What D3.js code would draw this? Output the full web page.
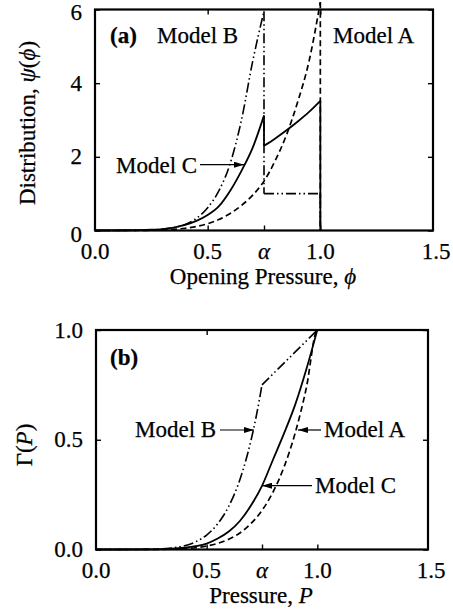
<!DOCTYPE html>
<html>
<head>
<meta charset="utf-8">
<script src="https://cdn.jsdelivr.net/npm/d3@7"></script>
<style>
  html, body { margin: 0; padding: 0; background: #fff; }
  svg { display: block; }
  text { font-family: "Liberation Serif", "Times New Roman", serif; fill: #000; stroke: #000; stroke-width: 0.25px; }
</style>
</head>
<body>
<svg id="chart" width="453" height="612"></svg>
<script>
// ---------------- data ----------------
const ALPHA = 0.75;
const xTickValues = [0, 0.5, ALPHA, 1.0, 1.5];
const xTickLabels = ["0.0", "0.5", "α", "1.0", "1.5"];
const yTickValuesA = [0, 2, 4, 6];
const yTickLabelsA = ["0", "2", "4", "6"];
const yTickValuesB = [0, 0.5, 1.0];
const yTickLabelsB = ["0.0", "0.5", "1.0"];

// Panel (a): distribution psi(phi); repeated x = vertical jump
const phiA = [0, 0.2, 0.25, 0.3, 0.35, 0.4, 0.45, 0.5, 0.55, 0.6, 0.65, 0.7, 0.75, 0.8, 0.85, 0.9, 0.95, 1.0, 1.0];
const psiA = [0, 0.002, 0.006, 0.015, 0.032, 0.061, 0.11, 0.185, 0.30, 0.46, 0.68, 0.96, 1.34, 1.90, 2.60, 3.50, 4.60, 6.2, 0];

const phiB = [0, 0.2, 0.25, 0.3, 0.35, 0.4, 0.45, 0.5, 0.55, 0.6, 0.65, 0.7, 0.725, 0.75, 0.75, 1.0, 1.0];
const psiB = [0, 0.005, 0.015, 0.035, 0.08, 0.16, 0.33, 0.62, 1.08, 1.82, 3.0, 4.6, 5.3, 5.95, 1.0, 1.0, 0];

const phiC = [0, 0.2, 0.25, 0.3, 0.35, 0.4, 0.45, 0.5, 0.55, 0.6, 0.65, 0.7, 0.75, 0.75, 0.8, 0.85, 0.9, 0.95, 1.0, 1.0];
const psiC = [0, 0.01, 0.02, 0.04, 0.08, 0.15, 0.26, 0.42, 0.66, 1.08, 1.62, 2.25, 3.12, 2.30, 2.50, 2.72, 2.96, 3.22, 3.52, 0];

// Panel (b): cumulative Gamma(P)
const pA = [0, 0.2, 0.3, 0.35, 0.4, 0.45, 0.5, 0.55, 0.6, 0.65, 0.7, 0.75, 0.8, 0.85, 0.9, 0.95, 1.0, 1.5];
const gammaA = [0, 0.0001, 0.0007, 0.0018, 0.004, 0.008, 0.016, 0.028, 0.047, 0.075, 0.118, 0.178, 0.262, 0.377, 0.531, 0.735, 1.0, 1.0];

const pB = [0, 0.2, 0.25, 0.3, 0.35, 0.4, 0.45, 0.5, 0.55, 0.6, 0.65, 0.7, 0.725, 0.75, 1.0, 1.5];
const gammaB = [0, 0.0003, 0.001, 0.003, 0.008, 0.017, 0.035, 0.066, 0.117, 0.197, 0.318, 0.496, 0.612, 0.75, 1.0, 1.0];

const pC = [0, 0.2, 0.3, 0.4, 0.45, 0.5, 0.55, 0.6, 0.65, 0.7, 0.75, 0.8, 0.85, 0.9, 0.95, 1.0, 1.5];
const gammaC = [0, 0.0002, 0.002, 0.008, 0.015, 0.027, 0.05, 0.082, 0.13, 0.2, 0.29, 0.41, 0.53, 0.66, 0.82, 1.0, 1.0];

// ---------------- styles ----------------
const FS = 23;
const STYLE = {
  A: { dash: "6,3.5", width: 1.7 },
  B: { dash: "10,3,1.5,3,1.5,3", width: 1.6 },
  C: { dash: null, width: 1.8 }
};

const svg = d3.select("#chart");

svg.append("defs").append("marker")
  .attr("id", "arrow").attr("viewBox", "0 0 10 6")
  .attr("refX", 10).attr("refY", 3)
  .attr("markerWidth", 10).attr("markerHeight", 6)
  .attr("markerUnits", "userSpaceOnUse")
  .attr("orient", "auto")
  .append("path").attr("d", "M0,0 L10,3 L0,6 Z").attr("fill", "#000");

function drawSeries(g, x, y, xs, ys, st, kink) {
  const pts = xs.map((v, i) => [v, ys[i]]);
  const pieces = [];
  let cur = [pts[0]];
  for (let i = 1; i < pts.length; i++) {
    if (pts[i][0] === pts[i - 1][0]) {
      pieces.push({ type: "smooth", pts: cur });
      pieces.push({ type: "jump", pts: [pts[i - 1], pts[i]] });
      cur = [pts[i]];
    } else if (kink && kink.includes(pts[i - 1][0]) && cur.length > 1) {
      pieces.push({ type: "smooth", pts: cur });
      cur = [pts[i - 1], pts[i]];
    } else {
      cur.push(pts[i]);
    }
  }
  if (cur.length > 1) pieces.push({ type: "smooth", pts: cur });
  pieces.forEach(pc => {
    const line = d3.line().x(d => x(d[0])).y(d => y(d[1]))
      .curve(pc.type === "smooth" ? d3.curveMonotoneX : d3.curveLinear);
    g.append("path").datum(pc.pts).attr("d", line)
      .attr("fill", "none").attr("stroke", "#000")
      .attr("stroke-width", st.width)
      .attr("stroke-dasharray", st.dash)
      .attr("stroke-linejoin", "round");
  });
}

function panel(cfg) {
  const x = d3.scaleLinear().domain([0, 1.5]).range([cfg.left, cfg.right]);
  const y = d3.scaleLinear().domain(cfg.yDomain).range([cfg.bottom, cfg.top]);
  const g = svg.append("g");

  cfg.series.forEach(s => drawSeries(g, x, y, s.xs, s.ys, s.style, s.kink));

  const tickLen = 5;
  const ax = g.append("g");
  ax.append("g").attr("transform", `translate(0,${cfg.bottom})`)
    .call(d3.axisBottom(x).tickValues(cfg.xTicksBottom).tickSize(-tickLen).tickFormat(""));
  ax.append("g").attr("transform", `translate(0,${cfg.top})`)
    .call(d3.axisTop(x).tickValues(cfg.xTicksTop).tickSize(-tickLen).tickFormat(""));
  ax.append("g").attr("transform", `translate(${cfg.left},0)`)
    .call(d3.axisLeft(y).tickValues(cfg.yTicks).tickSize(-tickLen).tickFormat(""));
  ax.append("g").attr("transform", `translate(${cfg.right},0)`)
    .call(d3.axisRight(y).tickValues(cfg.yTicks).tickSize(-tickLen).tickFormat(""));
  ax.selectAll(".domain").remove();
  ax.selectAll(".tick line").attr("stroke", "#000").attr("stroke-width", 1.4);

  g.append("rect").attr("x", cfg.left).attr("y", cfg.top)
    .attr("width", cfg.right - cfg.left).attr("height", cfg.bottom - cfg.top)
    .attr("fill", "none").attr("stroke", "#000").attr("stroke-width", 2.2);

  xTickValues.forEach((v, i) => {
    const t = g.append("text").attr("x", x(v) + (i === 4 ? 3 : 0)).attr("y", cfg.bottom + 28)
      .attr("text-anchor", "middle").attr("font-size", FS).text(xTickLabels[i]);
    if (xTickLabels[i] === "α") t.attr("font-style", "italic");
  });
  cfg.yTicks.forEach((v, i) => {
    g.append("text").attr("x", cfg.left - 13).attr("y", y(v) + 7.5 + (cfg.yLabelShift[i] || 0))
      .attr("text-anchor", "end").attr("font-size", FS).text(cfg.yLabels[i]);
  });

  return { x, y, g };
}

// ---------------- panel (a) ----------------
panel({
  left: 95, right: 433, top: 9.5, bottom: 230.5, yDomain: [0, 6],
  xTicksBottom: [0.5, ALPHA, 1.0], xTicksTop: [0.5, 1.0],
  yTicks: yTickValuesA, yLabels: yTickLabelsA, yLabelShift: [4, 0, 0, 2.5],
  series: [
    { xs: phiA, ys: psiA, style: STYLE.A },
    { xs: phiC, ys: psiC, style: STYLE.C },
    { xs: phiB, ys: psiB, style: STYLE.B }
  ]
});

const xt1 = svg.append("text").attr("x", 263).attr("y", 284).attr("text-anchor", "middle").attr("font-size", FS);
xt1.append("tspan").text("Opening Pressure, ");
xt1.append("tspan").attr("font-style", "italic").text("ϕ");

const yt1 = svg.append("text").attr("transform", "translate(35,123) rotate(-90)")
  .attr("text-anchor", "middle").attr("font-size", FS);
yt1.append("tspan").text("Distribution, ");
yt1.append("tspan").attr("font-style", "italic").text("ψ");
yt1.append("tspan").text("(");
yt1.append("tspan").attr("font-style", "italic").text("ϕ");
yt1.append("tspan").text(")");

svg.append("text").attr("x", 110).attr("y", 43).attr("font-size", FS).attr("font-weight", "bold").text("(a)");
svg.append("text").attr("x", 157).attr("y", 43).attr("font-size", FS).text("Model B");
svg.append("text").attr("x", 333).attr("y", 43).attr("font-size", FS).text("Model A");
svg.append("text").attr("x", 116).attr("y", 173).attr("font-size", FS).text("Model C");
svg.append("line").attr("x1", 200).attr("y1", 164.7).attr("x2", 244).attr("y2", 164.7)
  .attr("stroke", "#000").attr("stroke-width", 1.2).attr("marker-end", "url(#arrow)");

// ---------------- panel (b) ----------------
panel({
  left: 96, right: 428, top: 330, bottom: 549.5, yDomain: [0, 1],
  xTicksBottom: [0.5, ALPHA, 1.0], xTicksTop: [0.5],
  yTicks: yTickValuesB, yLabels: yTickLabelsB, yLabelShift: [0, 0, 0],
  series: [
    { xs: pA, ys: gammaA, style: STYLE.A },
    { xs: pC, ys: gammaC, style: STYLE.C, kink: [1.0] },
    { xs: pB, ys: gammaB, style: STYLE.B, kink: [ALPHA, 1.0] }
  ]
});

const xt2 = svg.append("text").attr("x", 261).attr("y", 603).attr("text-anchor", "middle").attr("font-size", FS);
xt2.append("tspan").text("Pressure, ");
xt2.append("tspan").attr("font-style", "italic").text("P");

const yt2 = svg.append("text").attr("transform", "translate(32,445) rotate(-90)")
  .attr("text-anchor", "middle").attr("font-size", FS);
yt2.append("tspan").text("Γ(");
yt2.append("tspan").attr("font-style", "italic").text("P");
yt2.append("tspan").text(")");

svg.append("text").attr("x", 110).attr("y", 365).attr("font-size", FS).attr("font-weight", "bold").text("(b)");
svg.append("text").attr("x", 135).attr("y", 437).attr("font-size", FS).text("Model B");
svg.append("line").attr("x1", 220).attr("y1", 430).attr("x2", 254).attr("y2", 430)
  .attr("stroke", "#000").attr("stroke-width", 1.2).attr("marker-end", "url(#arrow)");
svg.append("text").attr("x", 324).attr("y", 437).attr("font-size", FS).text("Model A");
svg.append("line").attr("x1", 321).attr("y1", 430).attr("x2", 298).attr("y2", 430)
  .attr("stroke", "#000").attr("stroke-width", 1.2).attr("marker-end", "url(#arrow)");
svg.append("text").attr("x", 315).attr("y", 493).attr("font-size", FS).text("Model C");
svg.append("line").attr("x1", 312).attr("y1", 485.7).attr("x2", 262).attr("y2", 485.7)
  .attr("stroke", "#000").attr("stroke-width", 1.2).attr("marker-end", "url(#arrow)");
</script>
</body>
</html>
